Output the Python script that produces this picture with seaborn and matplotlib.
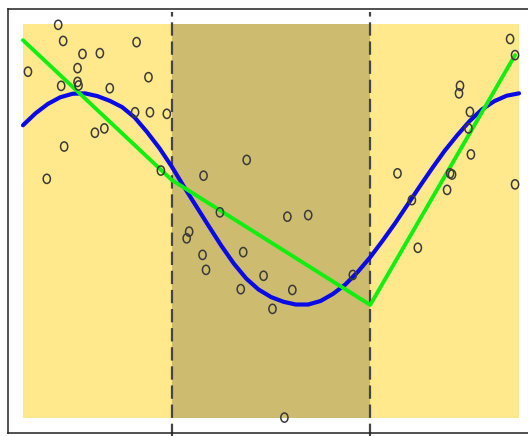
import numpy as np
import pandas as pd
import matplotlib
matplotlib.use("Agg")
import matplotlib.pyplot as plt
import matplotlib.path as mpath
from matplotlib.transforms import Affine2D
import seaborn as sns

# Observations
pts_x = [0.71, 0.81, 2.29, 1.20, 1.55, 0.10, 1.10, 2.53, 0.77, 1.10, 1.12, 1.75,
         2.26, 2.56, 2.90, 1.64, 1.45, 0.83, 0.48, 2.78,
         4.51, 3.64, 3.97, 5.33, 5.75, 3.35, 3.30, 3.62, 3.69, 4.44, 4.85, 4.39,
         5.43, 5.03, 6.65, 5.27,
         9.82, 9.92, 8.81, 8.79, 9.01, 8.98, 9.03, 7.55, 8.61, 8.65, 8.55, 9.92,
         7.84, 7.96]
pts_y = [9.98, 9.57, 9.54, 9.24, 9.26, 8.79, 8.88, 8.65, 8.43, 8.53, 8.44, 8.37,
         7.76, 7.76, 7.72, 7.35, 7.24, 6.89, 6.07, 6.28,
         6.55, 6.15, 5.22, 5.11, 5.15, 4.73, 4.56, 4.14, 3.76, 4.21, 3.61, 3.27,
         3.25, 2.77, 3.63, 0.01,
         9.62, 9.21, 8.43, 8.24, 7.77, 7.35, 6.69, 6.21, 6.21, 6.18, 5.79, 5.93,
         5.53, 4.32]

# Smooth fitted curve, sampled every 0.25 along x
curve_x = [0.00, 0.25, 0.50, 0.75, 1.00, 1.25, 1.50, 1.75, 2.00, 2.25, 2.50,
           2.75, 3.00, 3.25, 3.50, 3.75, 4.00, 4.25, 4.50, 4.75, 5.00, 5.25,
           5.50, 5.75, 6.00, 6.25, 6.50, 6.75, 7.00, 7.25, 7.50, 7.75, 8.00,
           8.25, 8.50, 8.75, 9.00, 9.25, 9.50, 9.75, 10.00]
curve_y = [7.43, 7.73, 7.97, 8.14, 8.23, 8.24, 8.17, 8.05, 7.89, 7.63, 7.26,
           6.85, 6.38, 5.86, 5.36, 4.86, 4.37, 3.92, 3.54, 3.26, 3.07, 2.95,
           2.88, 2.88, 2.97, 3.15, 3.39, 3.71, 4.08, 4.50, 4.94, 5.41, 5.88,
           6.34, 6.78, 7.17, 7.53, 7.83, 8.04, 8.18, 8.24]

# Segmented (broken-line) fit with knots at 3 and 7
seg_x = [0.0, 3.0, 7.0, 9.92]
seg_y = [9.59, 6.04, 2.87, 9.21]

# Shaded regions
domain = (0.0, 10.0)
y_span = (0.0, 10.0)
middle = (3.0, 7.0)

sns.set_theme(style="white")

fig = plt.figure(figsize=(5.28, 4.36), dpi=100)
ax = fig.add_axes([8 / 528, 3 / 436, 526 / 528, 424 / 436])

ax.fill_between(domain, y_span[0], y_span[1], color="#FFE98C", lw=0, zorder=0)
ax.fill_between(middle, y_span[0], y_span[1], color="#CDBC70", lw=0, zorder=0.5)

for xv in middle:
    ax.axvline(xv, ymin=-0.05, ymax=0.993, clip_on=False, color="#454545",
               lw=1.6, dashes=(6, 2.6), zorder=1)

sns.lineplot(x=curve_x, y=curve_y, ax=ax, color="#0a0ae6", lw=3.0,
             sort=False, zorder=2)
sns.lineplot(x=seg_x, y=seg_y, ax=ax, color="#10f010", lw=2.8,
             sort=False, zorder=3)

ellipse = mpath.Path.unit_circle().transformed(Affine2D().scale(0.78, 1.0))
sns.scatterplot(x=pts_x, y=pts_y, ax=ax, marker=ellipse, s=44,
                facecolor="none", edgecolor="#3a3a3a", linewidth=1.1, zorder=4)

ax.set_xlim(-0.302, 10.302)
ax.set_ylim(-0.381, 10.381)
ax.set_xticks([])
ax.set_yticks([])
for sp in ax.spines.values():
    sp.set_color("#222222")
    sp.set_linewidth(1.1)

fig.savefig("out.png", dpi=100)
